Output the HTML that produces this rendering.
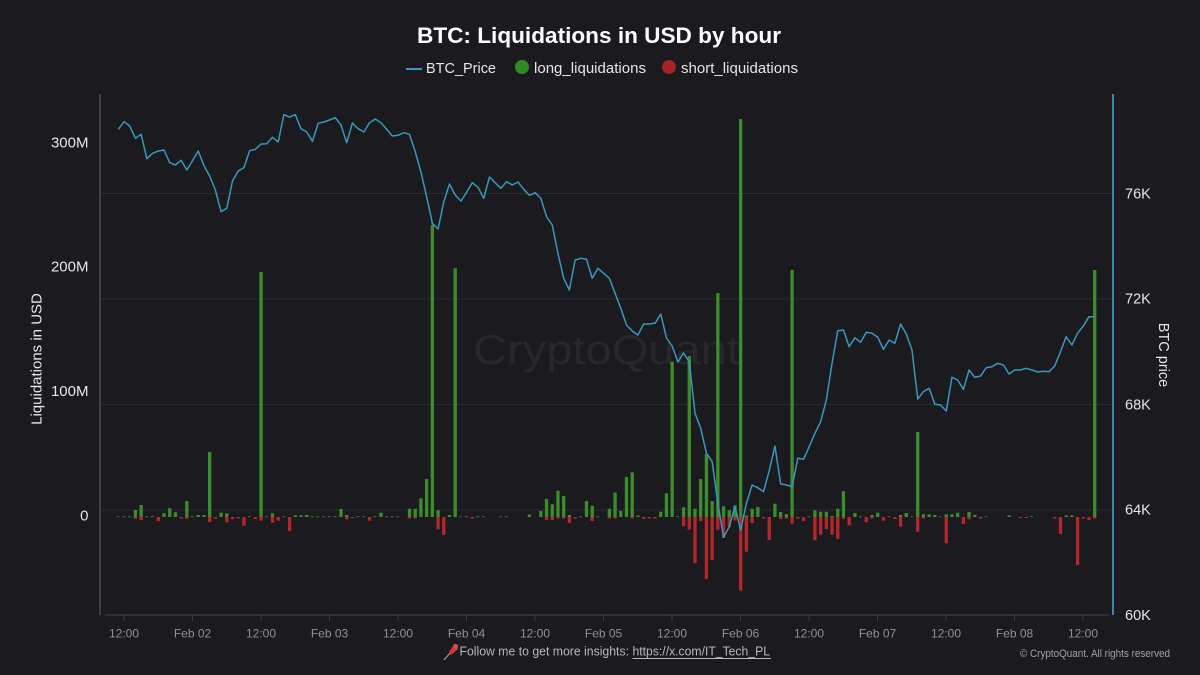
<!DOCTYPE html>
<html>
<head>
<meta charset="utf-8">
<style>
  html,body{margin:0;padding:0;background:#1a1a1f;}
  svg{display:block;}
  text{font-family:"Liberation Sans", Arial, sans-serif;}
</style>
</head>
<body>
<svg width="1200" height="675" viewBox="0 0 1200 675" xmlns="http://www.w3.org/2000/svg">
  <rect x="0" y="0" width="1200" height="675" fill="#1a1a1f"/>

  <!-- Title -->
  <text x="417" y="43" font-size="22" font-weight="bold" fill="#ffffff" textLength="364" lengthAdjust="spacingAndGlyphs">BTC: Liquidations in USD by hour</text>

  <!-- Legend -->
  <line x1="406" y1="69" x2="422" y2="69" stroke="#3a97ba" stroke-width="2"/>
  <text x="426" y="73" font-size="15" fill="#e6e6e6" textLength="70" lengthAdjust="spacingAndGlyphs">BTC_Price</text>
  <circle cx="522" cy="67" r="7" fill="#2f8a26"/>
  <text x="534" y="73" font-size="15" fill="#e6e6e6" textLength="112" lengthAdjust="spacingAndGlyphs">long_liquidations</text>
  <circle cx="669" cy="67" r="7" fill="#a82424"/>
  <text x="681" y="73" font-size="15" fill="#e6e6e6" textLength="117" lengthAdjust="spacingAndGlyphs">short_liquidations</text>

  <!-- Gridlines -->
  <g stroke="#2a2a30" stroke-width="1">
    <line x1="101" y1="193.5" x2="1112" y2="193.5"/>
    <line x1="101" y1="299" x2="1112" y2="299"/>
    <line x1="101" y1="404.5" x2="1112" y2="404.5"/>
    <line x1="101" y1="510" x2="1112" y2="510"/>
  </g>

  <!-- Watermark -->
  <text x="473" y="364" font-size="42" fill="#27272c" textLength="267" lengthAdjust="spacingAndGlyphs">CryptoQuant</text>

  <!-- Axes -->
  <line x1="100" y1="94" x2="100" y2="615" stroke="#4a4a50" stroke-width="1.5"/>
  <line x1="105" y1="615" x2="1109" y2="615" stroke="#3c3c42" stroke-width="1.2"/>
  <line x1="1113" y1="94" x2="1113" y2="615" stroke="#3a87a8" stroke-width="2"/>

  <!-- X ticks -->
  <g stroke="#3c3c42" stroke-width="1">
    <line x1="124" y1="615" x2="124" y2="621"/>
    <line x1="192.5" y1="615" x2="192.5" y2="621"/>
    <line x1="261" y1="615" x2="261" y2="621"/>
    <line x1="329.5" y1="615" x2="329.5" y2="621"/>
    <line x1="398" y1="615" x2="398" y2="621"/>
    <line x1="466.5" y1="615" x2="466.5" y2="621"/>
    <line x1="535" y1="615" x2="535" y2="621"/>
    <line x1="603.5" y1="615" x2="603.5" y2="621"/>
    <line x1="672" y1="615" x2="672" y2="621"/>
    <line x1="740.5" y1="615" x2="740.5" y2="621"/>
    <line x1="809" y1="615" x2="809" y2="621"/>
    <line x1="877.5" y1="615" x2="877.5" y2="621"/>
    <line x1="946" y1="615" x2="946" y2="621"/>
    <line x1="1014.5" y1="615" x2="1014.5" y2="621"/>
    <line x1="1083" y1="615" x2="1083" y2="621"/>
  </g>
  <g font-size="12" fill="#8f8f97" text-anchor="middle">
    <text x="124" y="637.5">12:00</text>
    <text x="192.5" y="637.5">Feb 02</text>
    <text x="261" y="637.5">12:00</text>
    <text x="329.5" y="637.5">Feb 03</text>
    <text x="398" y="637.5">12:00</text>
    <text x="466.5" y="637.5">Feb 04</text>
    <text x="535" y="637.5">12:00</text>
    <text x="603.5" y="637.5">Feb 05</text>
    <text x="672" y="637.5">12:00</text>
    <text x="740.5" y="637.5">Feb 06</text>
    <text x="809" y="637.5">12:00</text>
    <text x="877.5" y="637.5">Feb 07</text>
    <text x="946" y="637.5">12:00</text>
    <text x="1014.5" y="637.5">Feb 08</text>
    <text x="1083" y="637.5">12:00</text>
  </g>

  <!-- Left axis labels -->
  <g font-size="15" fill="#e6e6e6" text-anchor="end">
    <text x="88.5" y="147.3">300M</text>
    <text x="88.5" y="271.3">200M</text>
    <text x="88.5" y="396">100M</text>
    <text x="88.5" y="520.5">0</text>
  </g>
  <text transform="translate(41.5,359) rotate(-90)" font-size="15" fill="#e6e6e6" text-anchor="middle">Liquidations in USD</text>

  <!-- Right axis labels -->
  <g font-size="14.5" fill="#e6e6e6">
    <text x="1125" y="198.5">76K</text>
    <text x="1125" y="303.5">72K</text>
    <text x="1125" y="409.5">68K</text>
    <text x="1125" y="514.5">64K</text>
    <text x="1125" y="620">60K</text>
  </g>
  <text transform="translate(1159,355) rotate(90)" font-size="14.5" fill="#e6e6e6" text-anchor="middle">BTC price</text>

  <!-- Tiny dots (near-zero values) -->
  <g fill="#3b5a30" transform="translate(116.64,516) scale(5.71,1)">
    <rect x="0" y="0" width="0.5" height="1.3"/><rect x="1" y="0" width="0.5" height="1.3"/><rect x="2" y="0" width="0.5" height="1.3"/>
    <rect x="5" y="0" width="0.5" height="1.3"/><rect x="6" y="0" width="0.5" height="1.3"/><rect x="13" y="0" width="0.5" height="1.3"/>
    <rect x="23" y="0" width="0.5" height="1.3"/><rect x="26" y="0" width="0.5" height="1.3"/><rect x="29" y="0" width="0.5" height="1.3"/>
    <rect x="34" y="0" width="0.5" height="1.3"/><rect x="35" y="0" width="0.5" height="1.3"/><rect x="36" y="0" width="0.5" height="1.3"/>
    <rect x="37" y="0" width="0.5" height="1.3"/><rect x="38" y="0" width="0.5" height="1.3"/><rect x="42" y="0" width="0.5" height="1.3"/>
    <rect x="43" y="0" width="0.5" height="1.3"/><rect x="45" y="0" width="0.5" height="1.3"/><rect x="47" y="0" width="0.5" height="1.3"/>
    <rect x="48" y="0" width="0.5" height="1.3"/><rect x="49" y="0" width="0.5" height="1.3"/><rect x="60" y="0" width="0.5" height="1.3"/>
    <rect x="61" y="0" width="0.5" height="1.3"/><rect x="63" y="0" width="0.5" height="1.3"/><rect x="64" y="0" width="0.5" height="1.3"/>
    <rect x="67" y="0" width="0.5" height="1.3"/><rect x="68" y="0" width="0.5" height="1.3"/><rect x="81" y="0" width="0.5" height="1.3"/>
    <rect x="84" y="0" width="0.5" height="1.3"/><rect x="98" y="0" width="0.5" height="1.3"/><rect x="121" y="0" width="0.5" height="1.3"/>
    <rect x="130" y="0" width="0.5" height="1.3"/><rect x="135" y="0" width="0.5" height="1.3"/><rect x="139" y="0" width="0.5" height="1.3"/>
    <rect x="144" y="0" width="0.5" height="1.3"/><rect x="152" y="0" width="0.5" height="1.3"/><rect x="160" y="0" width="0.5" height="1.3"/>
  </g>

  <!-- Long liquidations (green, up) -->
  <g fill="#3d8c2b" transform="translate(116.64,517) scale(5.71,-1)">
    <rect x="3" y="0" width="0.58" height="7"/>
    <rect x="4" y="0" width="0.58" height="12"/>
    <rect x="8" y="0" width="0.58" height="3.7"/>
    <rect x="9" y="0" width="0.58" height="8.7"/>
    <rect x="10" y="0" width="0.58" height="4.7"/>
    <rect x="12" y="0" width="0.58" height="16"/>
    <rect x="14" y="0" width="0.58" height="2"/>
    <rect x="15" y="0" width="0.58" height="2"/>
    <rect x="16" y="0" width="0.58" height="65"/>
    <rect x="18" y="0" width="0.58" height="4.3"/>
    <rect x="19" y="0" width="0.58" height="3.7"/>
    <rect x="25" y="0" width="0.58" height="245"/>
    <rect x="27" y="0" width="0.58" height="3.7"/>
    <rect x="31" y="0" width="0.58" height="1.7"/>
    <rect x="32" y="0" width="0.58" height="1.7"/>
    <rect x="33" y="0" width="0.58" height="2"/>
    <rect x="39" y="0" width="0.58" height="8"/>
    <rect x="40" y="0" width="0.58" height="2"/>
    <rect x="46" y="0" width="0.58" height="4.3"/>
    <rect x="51" y="0" width="0.58" height="8.3"/>
    <rect x="52" y="0" width="0.58" height="8.3"/>
    <rect x="53" y="0" width="0.58" height="18.7"/>
    <rect x="54" y="0" width="0.58" height="38"/>
    <rect x="55" y="0" width="0.58" height="292"/>
    <rect x="56" y="0" width="0.58" height="6.7"/>
    <rect x="58" y="0" width="0.58" height="2"/>
    <rect x="59" y="0" width="0.58" height="248.7"/>
    <rect x="72" y="0" width="0.58" height="2.5"/>
    <rect x="74" y="0" width="0.58" height="6"/>
    <rect x="75" y="0" width="0.58" height="18"/>
    <rect x="76" y="0" width="0.58" height="12.7"/>
    <rect x="77" y="0" width="0.58" height="26.3"/>
    <rect x="78" y="0" width="0.58" height="21"/>
    <rect x="79" y="0" width="0.58" height="2"/>
    <rect x="82" y="0" width="0.58" height="16"/>
    <rect x="83" y="0" width="0.58" height="11.3"/>
    <rect x="86" y="0" width="0.58" height="8.3"/>
    <rect x="87" y="0" width="0.58" height="24.3"/>
    <rect x="88" y="0" width="0.58" height="6"/>
    <rect x="89" y="0" width="0.58" height="40"/>
    <rect x="90" y="0" width="0.58" height="44.7"/>
    <rect x="91" y="0" width="0.58" height="1.5"/>
    <rect x="95" y="0" width="0.58" height="5.3"/>
    <rect x="96" y="0" width="0.58" height="23.7"/>
    <rect x="97" y="0" width="0.58" height="155.3"/>
    <rect x="99" y="0" width="0.58" height="9.7"/>
    <rect x="100" y="0" width="0.58" height="161"/>
    <rect x="101" y="0" width="0.58" height="8.3"/>
    <rect x="102" y="0" width="0.58" height="38"/>
    <rect x="103" y="0" width="0.58" height="63"/>
    <rect x="104" y="0" width="0.58" height="16"/>
    <rect x="105" y="0" width="0.58" height="224"/>
    <rect x="106" y="0" width="0.58" height="10.7"/>
    <rect x="107" y="0" width="0.58" height="6.7"/>
    <rect x="108" y="0" width="0.58" height="11.7"/>
    <rect x="109" y="0" width="0.58" height="398"/>
    <rect x="110" y="0" width="0.58" height="1.5"/>
    <rect x="111" y="0" width="0.58" height="8.3"/>
    <rect x="112" y="0" width="0.58" height="10"/>
    <rect x="115" y="0" width="0.58" height="13.3"/>
    <rect x="116" y="0" width="0.58" height="5"/>
    <rect x="117" y="0" width="0.58" height="3"/>
    <rect x="118" y="0" width="0.58" height="247"/>
    <rect x="122" y="0" width="0.58" height="6.7"/>
    <rect x="123" y="0" width="0.58" height="5.3"/>
    <rect x="124" y="0" width="0.58" height="5.3"/>
    <rect x="125" y="0" width="0.58" height="1"/>
    <rect x="126" y="0" width="0.58" height="8.3"/>
    <rect x="127" y="0" width="0.58" height="25.7"/>
    <rect x="129" y="0" width="0.58" height="4"/>
    <rect x="132" y="0" width="0.58" height="2"/>
    <rect x="133" y="0" width="0.58" height="4.3"/>
    <rect x="137" y="0" width="0.58" height="2"/>
    <rect x="138" y="0" width="0.58" height="4"/>
    <rect x="140" y="0" width="0.58" height="85"/>
    <rect x="141" y="0" width="0.58" height="2.7"/>
    <rect x="142" y="0" width="0.58" height="2.7"/>
    <rect x="143" y="0" width="0.58" height="2"/>
    <rect x="145" y="0" width="0.58" height="2.7"/>
    <rect x="146" y="0" width="0.58" height="2.7"/>
    <rect x="147" y="0" width="0.58" height="4.3"/>
    <rect x="149" y="0" width="0.58" height="5"/>
    <rect x="150" y="0" width="0.58" height="2"/>
    <rect x="156" y="0" width="0.58" height="1.5"/>
    <rect x="166" y="0" width="0.58" height="1.5"/>
    <rect x="167" y="0" width="0.58" height="1.5"/>
    <rect x="171" y="0" width="0.58" height="247"/>
  </g>

  <!-- Short liquidations (red, down) -->
  <g fill="#b3272c" transform="translate(116.64,517) scale(5.71,1)">
    <rect x="3" y="0" width="0.58" height="2"/>
    <rect x="4" y="0" width="0.58" height="3"/>
    <rect x="7" y="0" width="0.58" height="4"/>
    <rect x="11" y="0" width="0.58" height="1.5"/>
    <rect x="12" y="0" width="0.58" height="2"/>
    <rect x="16" y="0" width="0.58" height="5"/>
    <rect x="17" y="0" width="0.58" height="1.7"/>
    <rect x="19" y="0" width="0.58" height="5.3"/>
    <rect x="20" y="0" width="0.58" height="2.3"/>
    <rect x="21" y="0" width="0.58" height="1.3"/>
    <rect x="22" y="0" width="0.58" height="8.7"/>
    <rect x="24" y="0" width="0.58" height="2"/>
    <rect x="25" y="0" width="0.58" height="3.7"/>
    <rect x="27" y="0" width="0.58" height="5.7"/>
    <rect x="28" y="0" width="0.58" height="3.7"/>
    <rect x="30" y="0" width="0.58" height="14"/>
    <rect x="40" y="0" width="0.58" height="2.3"/>
    <rect x="41" y="0" width="0.58" height="1"/>
    <rect x="44" y="0" width="0.58" height="3.7"/>
    <rect x="51" y="0" width="0.58" height="1.5"/>
    <rect x="52" y="0" width="0.58" height="1.5"/>
    <rect x="56" y="0" width="0.58" height="12.3"/>
    <rect x="57" y="0" width="0.58" height="18"/>
    <rect x="62" y="0" width="0.58" height="1.5"/>
    <rect x="75" y="0" width="0.58" height="3"/>
    <rect x="76" y="0" width="0.58" height="3"/>
    <rect x="77" y="0" width="0.58" height="1.5"/>
    <rect x="78" y="0" width="0.58" height="1.5"/>
    <rect x="79" y="0" width="0.58" height="6"/>
    <rect x="80" y="0" width="0.58" height="1.5"/>
    <rect x="83" y="0" width="0.58" height="4"/>
    <rect x="86" y="0" width="0.58" height="1.5"/>
    <rect x="87" y="0" width="0.58" height="1.5"/>
    <rect x="90" y="0" width="0.58" height="1.5"/>
    <rect x="92" y="0" width="0.58" height="2"/>
    <rect x="93" y="0" width="0.58" height="1.5"/>
    <rect x="94" y="0" width="0.58" height="1.5"/>
    <rect x="99" y="0" width="0.58" height="9.3"/>
    <rect x="100" y="0" width="0.58" height="12.7"/>
    <rect x="101" y="0" width="0.58" height="46"/>
    <rect x="102" y="0" width="0.58" height="4"/>
    <rect x="103" y="0" width="0.58" height="62"/>
    <rect x="104" y="0" width="0.58" height="43"/>
    <rect x="105" y="0" width="0.58" height="12.7"/>
    <rect x="106" y="0" width="0.58" height="21"/>
    <rect x="107" y="0" width="0.58" height="10"/>
    <rect x="108" y="0" width="0.58" height="3.5"/>
    <rect x="109" y="0" width="0.58" height="73.7"/>
    <rect x="110" y="0" width="0.58" height="34.7"/>
    <rect x="111" y="0" width="0.58" height="6"/>
    <rect x="113" y="0" width="0.58" height="1.5"/>
    <rect x="114" y="0" width="0.58" height="23"/>
    <rect x="116" y="0" width="0.58" height="2"/>
    <rect x="117" y="0" width="0.58" height="1.5"/>
    <rect x="118" y="0" width="0.58" height="6.7"/>
    <rect x="119" y="0" width="0.58" height="1.5"/>
    <rect x="120" y="0" width="0.58" height="4"/>
    <rect x="122" y="0" width="0.58" height="23.3"/>
    <rect x="123" y="0" width="0.58" height="17.7"/>
    <rect x="124" y="0" width="0.58" height="12"/>
    <rect x="125" y="0" width="0.58" height="17.7"/>
    <rect x="126" y="0" width="0.58" height="22"/>
    <rect x="127" y="0" width="0.58" height="2"/>
    <rect x="128" y="0" width="0.58" height="8.3"/>
    <rect x="131" y="0" width="0.58" height="5.3"/>
    <rect x="132" y="0" width="0.58" height="1.5"/>
    <rect x="134" y="0" width="0.58" height="3.7"/>
    <rect x="136" y="0" width="0.58" height="2"/>
    <rect x="137" y="0" width="0.58" height="9.7"/>
    <rect x="140" y="0" width="0.58" height="14.7"/>
    <rect x="141" y="0" width="0.58" height="1.5"/>
    <rect x="145" y="0" width="0.58" height="26.3"/>
    <rect x="148" y="0" width="0.58" height="7"/>
    <rect x="149" y="0" width="0.58" height="2.3"/>
    <rect x="151" y="0" width="0.58" height="1.5"/>
    <rect x="158" y="0" width="0.58" height="1"/>
    <rect x="159" y="0" width="0.58" height="1"/>
    <rect x="164" y="0" width="0.58" height="1.5"/>
    <rect x="165" y="0" width="0.58" height="17"/>
    <rect x="168" y="0" width="0.58" height="48"/>
    <rect x="169" y="0" width="0.58" height="1.5"/>
    <rect x="170" y="0" width="0.58" height="3"/>
    <rect x="171" y="0" width="0.58" height="1.5"/>
  </g>

  <!-- BTC price line -->
  <polyline transform="translate(118.3,0) scale(5.71,1)" fill="none" stroke="#3a97ba" stroke-width="1.5" vector-effect="non-scaling-stroke" stroke-linejoin="round"
    points="0,129.3 1,121.7 2,126 3,138.3 4,134.3 5,158.7 6,153.3 7,151 8,150 9,162.7 10,165 11,160.3 12,170 13,160.7 14,151 15,165.7 16,176 17,190 18,211.7 19,208.3 20,181 21,171 22,167.7 23,150.7 24,149.3 25,144 26,143.7 27,137.3 28,142 29,114.7 30,117 31,114.7 32,128.7 33,132 34,141.3 35,123.3 36,122 37,120 38,117.7 39,125 40,142.7 41,123 42,128.7 43,132 44,122.7 45,119 46,122.7 47,129.3 48,136 49,135.3 50,132.7 51,134.3 52,151.7 53,172 54,196.7 55,223.3 56,229 57,201.7 58,184 59,195 60,201 61,192.3 62,182.7 63,187.3 64,198.3 65,177 66,182.7 67,188.3 68,181.7 69,185 70,182 71,189.3 72,195.3 73,192.7 74,198.3 75,216.7 76,225 77,253.3 78,278.3 79,290 80,260 81,258.3 82,259.3 83,278.3 84,268.3 85,273.3 86,278.3 87,293.3 88,308.3 89,325 90,331 91,335 92,324 93,324 94,323.3 95,314 96,338 97,346 98,362 99,353 100,362 101,413.3 102,428.3 103,453.3 104,461.7 105,503.3 106,537.3 107,526.7 108,506.7 109,530 110,503.3 111,485 112,487.7 113,491.7 114,470.7 115,446 116,484 117,485 118,486.7 119,458.3 120,459.3 121,446.7 122,433.3 123,421.7 124,400 125,363.3 126,330.7 127,330 128,346.7 129,337.7 130,342.3 131,332.3 132,333.3 133,337.3 134,349.3 135,340 136,343.3 137,324 138,334 139,350 140,399 141,391.7 142,388.3 143,404.3 144,405 145,411 146,377.3 147,380 148,389.3 149,370 150,377.3 151,376 152,367.7 153,366.7 154,363.3 155,365 156,374 157,370 158,370 159,368.3 160,370 161,372 162,371.3 163,371.7 164,366 165,351.7 166,336.7 167,345 168,333.3 169,326 170,316.7 171,316.7"/>

  <!-- Footer -->
  <g>
    <line x1="444" y1="660" x2="450" y2="653" stroke="#9a9aa0" stroke-width="1.2"/>
    <path d="M449,652 L454,645 L458,649 L451,655 Z" fill="#d9363a"/>
    <circle cx="455.5" cy="646.5" r="2.6" fill="#e04448"/>
  </g>
  <text x="459.5" y="655.7" font-size="12.5" fill="#b6b6bc" textLength="169.5" lengthAdjust="spacingAndGlyphs">Follow me to get more insights:</text>
  <text x="632.5" y="655.7" font-size="12.5" fill="#b6b6bc" textLength="137.5" lengthAdjust="spacingAndGlyphs">https://x.com/IT_Tech_PL</text>
  <line x1="632.5" y1="658.5" x2="771" y2="658.5" stroke="#b6b6bc" stroke-width="0.9"/>
  <text x="1020" y="657" font-size="11" fill="#a0a0a6" textLength="150" lengthAdjust="spacingAndGlyphs">© CryptoQuant. All rights reserved</text>
</svg>
</body>
</html>
